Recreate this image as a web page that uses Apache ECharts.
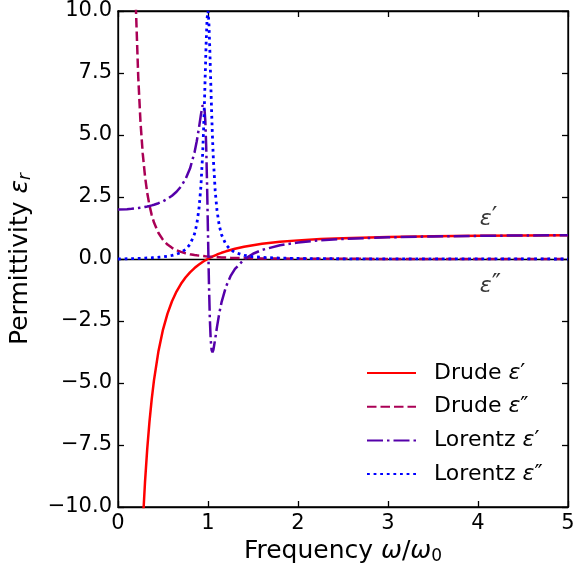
<!DOCTYPE html>
<html><head><meta charset="utf-8">
<script src="https://cdn.jsdelivr.net/npm/echarts@6/dist/echarts.min.js"></script>
<style>html,body{margin:0;padding:0;background:#fff}#c{width:574px;height:573px}</style>
</head><body><div id="c"></div><script>
const freq = [0, 0.1, 0.15, 0.2, 0.225, 0.25, 0.275, 0.3, 0.325, 0.35, 0.375, 0.4, 0.45, 0.5, 0.55, 0.6, 0.65, 0.7, 0.75, 0.8, 0.85, 0.875, 0.9, 0.92, 0.94, 0.95, 0.96, 0.97, 0.98, 0.99, 1.0, 1.01, 1.02, 1.03, 1.04, 1.05, 1.06, 1.08, 1.1, 1.125, 1.15, 1.2, 1.25, 1.3, 1.4, 1.5, 1.6, 1.8, 2.0, 2.25, 2.5, 3.0, 3.5, 4.0, 4.5, 5.0];
const drudeReal = [null, -49, -29.77, -19, -15.49, -12.79, -10.68, -9.0, -7.649, -6.547, -5.639, -4.882, -3.706, -2.846, -2.2, -1.703, -1.312, -1.0, -0.747, -0.538, -0.365, -0.289, -0.220, -0.168, -0.119, -0.096, -0.073, -0.052, -0.031, -0.010, 0.010, 0.029, 0.048, 0.066, 0.084, 0.101, 0.118, 0.150, 0.180, 0.216, 0.250, 0.310, 0.364, 0.412, 0.492, 0.558, 0.611, 0.692, 0.751, 0.803, 0.840, 0.889, 0.918, 0.938, 0.951, 0.960];
const drudeImag = [null, 50, 20.51, 10, 7.331, 5.517, 4.247, 3.333, 2.661, 2.156, 1.770, 1.471, 1.046, 0.769, 0.582, 0.450, 0.356, 0.286, 0.233, 0.192, 0.161, 0.147, 0.136, 0.127, 0.119, 0.115, 0.112, 0.108, 0.105, 0.102, 0.099, 0.096, 0.093, 0.091, 0.088, 0.086, 0.083, 0.079, 0.075, 0.070, 0.065, 0.058, 0.051, 0.045, 0.036, 0.030, 0.024, 0.017, 0.0125, 0.0088, 0.0064, 0.0037, 0.0023, 0.0016, 0.0011, 0.0008];
const lorentzReal = [2.0, 2.010, 2.023, 2.041, 2.053, 2.066, 2.081, 2.098, 2.117, 2.138, 2.161, 2.188, 2.250, 2.327, 2.425, 2.549, 2.710, 2.925, 3.220, 3.647, 4.295, 4.745, 5.299, 5.791, 6.200, 6.261, 6.103, 5.581, 4.545, 2.952, 1.0, -0.895, -2.357, -3.253, -3.670, -3.761, -3.662, -3.228, -2.737, -2.192, -1.751, -1.115, -0.694, -0.400, -0.020, 0.211, 0.366, 0.556, 0.668, 0.755, 0.810, 0.875, 0.911, 0.933, 0.948, 0.958];
const lorentzImag = [0, 0.0102, 0.0157, 0.0217, 0.0250, 0.0284, 0.0322, 0.0362, 0.0406, 0.0454, 0.0507, 0.0566, 0.0705, 0.0885, 0.112, 0.145, 0.193, 0.264, 0.381, 0.588, 1.009, 1.398, 2.036, 2.870, 4.199, 5.127, 6.249, 7.518, 8.772, 9.709, 10.0, 9.524, 8.475, 7.194, 5.951, 4.877, 3.998, 2.744, 1.957, 1.352, 0.981, 0.577, 0.376, 0.264, 0.149, 0.0946, 0.0651, 0.0356, 0.0221, 0.0136, 0.0090, 0.0047, 0.0028, 0.0018, 0.0012, 0.0009];
const seriesNames = ['Drude ε′', 'Drude ε″', 'Lorentz ε′', 'Lorentz ε″'];
const xTicks = [0, 1, 2, 3, 4, 5];
const yTicks = [-10, -7.5, -5, -2.5, 0, 2.5, 5, 7.5, 10];
const annotX = [4.02, 4.02];
const annotY = [1.62, -1.08];
const annotBase = ['ε', 'ε'];
const annotPrime = ['′', '″'];

const FONT = 'DejaVu Sans';
function pairs(ys) {
  const out = [];
  freq.forEach((x, i) => { if (ys[i] !== null) out.push([x, ys[i]]); });
  return out;
}
function fmt(v) {
  const s = v.toFixed(1);
  return v < 0 ? '\u2212' + s.slice(1) : s;
}
function axisCommon() {
  return {
    axisLine: { show: true, onZero: false, lineStyle: { color: '#000', width: 1.3 } },
    axisTick: { show: true, inside: true, length: 6, lineStyle: { color: '#000', width: 1.3 } },
    splitLine: { show: false }
  };
}
const chart = echarts.init(document.getElementById('c'), null, { renderer: 'canvas' });
const option = {
  animation: false,
  backgroundColor: '#fff',
  grid: { left: 118, right: 6, top: 11, bottom: 66, containLabel: false, outerBoundsMode: 'none',
    show: true, borderColor: '#000', borderWidth: 1.3, backgroundColor: 'transparent' },
  xAxis: [
    Object.assign({
      type: 'value', min: xTicks[0], max: xTicks[xTicks.length - 1], interval: 1, position: 'bottom',
      axisLabel: { show: true, color: '#000', fontFamily: FONT, fontSize: 21, margin: 6 },
      name: '{n|Frequency }{i|ω}{n|/}{i|ω}{s|0}', nameLocation: 'middle', nameGap: 30,
      nameTextStyle: { color: '#000', fontFamily: FONT, fontSize: 25,
        rich: { n: { fontFamily: FONT, fontSize: 25, color: '#000' },
                i: { fontFamily: FONT, fontSize: 25, fontStyle: 'italic', color: '#000' },
                s: { fontFamily: FONT, fontSize: 17, color: '#000', padding: [10, 0, 0, 0] } } }
    }, axisCommon()),
    Object.assign({
      type: 'value', min: xTicks[0], max: xTicks[xTicks.length - 1], interval: 1, position: 'top',
      axisLabel: { show: false }
    }, axisCommon())
  ],
  yAxis: [
    Object.assign({
      type: 'value', min: yTicks[0], max: yTicks[yTicks.length - 1], interval: 2.5, position: 'left',
      axisLabel: { show: true, color: '#000', fontFamily: FONT, fontSize: 21, margin: 6, formatter: fmt },
      name: '{n|Permittivity }{i|ε}{s|r}', nameLocation: 'middle', nameGap: 84,
      nameTextStyle: { color: '#000', fontFamily: FONT, fontSize: 25,
        rich: { n: { fontFamily: FONT, fontSize: 25, color: '#000' },
                i: { fontFamily: FONT, fontSize: 25, fontStyle: 'italic', color: '#000' },
                s: { fontFamily: FONT, fontSize: 17, fontStyle: 'italic', color: '#000', padding: [10, 0, 0, 0] } } }
    }, axisCommon()),
    Object.assign({
      type: 'value', min: yTicks[0], max: yTicks[yTicks.length - 1], interval: 2.5, position: 'right',
      axisLabel: { show: false }
    }, axisCommon())
  ],
  legend: {
    data: seriesNames, orient: 'vertical', left: 366, top: 362, padding: 0,
    itemWidth: 49, itemHeight: 22, itemGap: 11.7,
    itemStyle: { opacity: 0, borderWidth: 0 },
    formatter: function (name) {
      const parts = name.split(' ');
      return '{n|' + parts[0] + ' }{i|ε}{p|' + parts[1].slice(1) + '}';
    },
    textStyle: { color: '#000', fontFamily: FONT, fontSize: 22, padding: [0, 0, 0, 13],
      rich: { n: { fontFamily: FONT, fontSize: 22, color: '#000' },
              i: { fontFamily: FONT, fontSize: 22, fontStyle: 'italic', color: '#000' },
              p: { fontFamily: FONT, fontSize: 22, color: '#000' } } }
  },
  series: [
    { name: seriesNames[0], type: 'line', data: pairs(drudeReal), showSymbol: false, symbol: 'none', clip: true,
      lineStyle: { color: '#ff0000', width: 2.5, type: 'solid' }, itemStyle: { color: '#ff0000' }, z: 3,
      markLine: { silent: true, symbol: 'none', label: { show: false }, animation: false, z: 2,
        lineStyle: { color: '#000', width: 1.3, type: 'solid' }, data: [{ yAxis: 0 }] } },
    { name: seriesNames[1], type: 'line', data: pairs(drudeImag), showSymbol: false, symbol: 'none', clip: true,
      lineStyle: { color: '#aa0055', width: 2.5, type: [9.5, 4] }, itemStyle: { color: '#aa0055' }, z: 4 },
    { name: seriesNames[2], type: 'line', data: pairs(lorentzReal), showSymbol: false, symbol: 'none', clip: true,
      lineStyle: { color: '#5500aa', width: 2.5, type: [16, 4, 2.5, 4] }, itemStyle: { color: '#5500aa' }, z: 5 },
    { name: seriesNames[3], type: 'line', data: pairs(lorentzImag), showSymbol: false, symbol: 'none', clip: true,
      lineStyle: { color: '#0000ff', width: 2.8, type: [2.8, 3.8] }, itemStyle: { color: '#0000ff' }, z: 6 },
    { name: 'annot', type: 'scatter', symbolSize: 0, silent: true, z: 7,
      data: annotX.map((x, i) => ({ value: [x, annotY[i]],
        label: { formatter: '{i|' + annotBase[i] + '}{p|' + annotPrime[i] + '}' } })),
      label: { show: true, position: 'inside', align: 'left', verticalAlign: 'middle',
        fontFamily: FONT, fontSize: 22, color: '#000',
        rich: { i: { fontFamily: FONT, fontSize: 22, fontStyle: 'italic', color: '#000' },
                p: { fontFamily: FONT, fontSize: 25, color: '#000', padding: [0, 0, 2, 0] } } } }
  ]
};
chart.setOption(option);
</script></body></html>
